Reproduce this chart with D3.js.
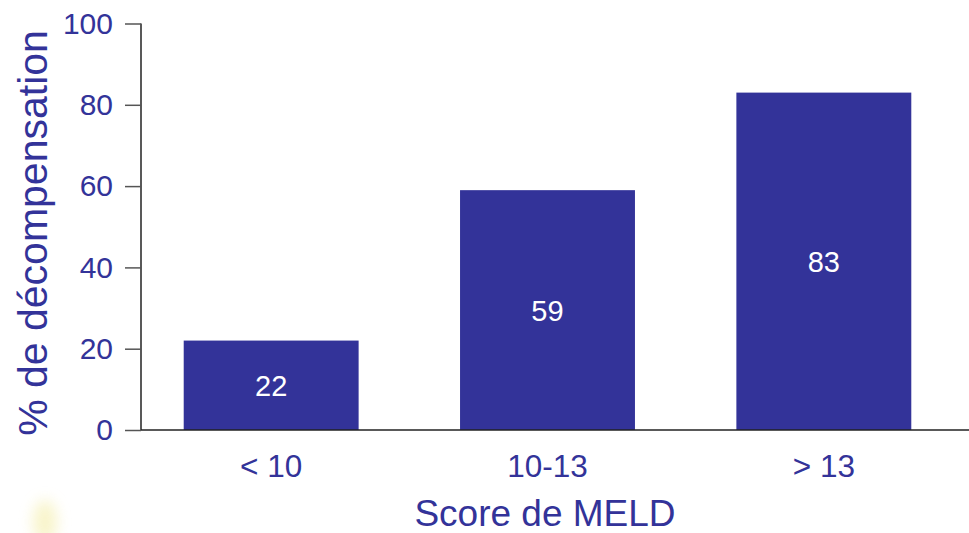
<!DOCTYPE html>
<html>
<head>
<meta charset="utf-8">
<script src="https://cdn.jsdelivr.net/npm/d3@7"></script>
<style>
  html, body { margin: 0; padding: 0; background: #ffffff; }
  svg { display: block; }
  text { font-family: "Liberation Sans", Arial, sans-serif; }
</style>
</head>
<body>
<svg id="chart" width="969" height="533"></svg>
<script>
// MELD score groups and the share of patients who decompensated (%)
const categories = ["< 10", "10-13", "> 13"];
const values = [22, 59, 83];
const yTicks = [0, 20, 40, 60, 80, 100];
const xTitle = "Score de MELD";
const yTitle = "% de décompensation";

const W = 969, H = 533;
const ink = "#333399";
const svg = d3.select("#chart");

// soft yellow glow in the lower-left corner
const defs = svg.append("defs");
defs.append("filter").attr("id", "glow")
  .attr("x", "-100%").attr("y", "-100%").attr("width", "300%").attr("height", "300%")
  .append("feGaussianBlur").attr("stdDeviation", 7);
svg.append("ellipse")
  .attr("cx", 45).attr("cy", 522).attr("rx", 12).attr("ry", 22)
  .attr("fill", "#f3eca0").attr("opacity", 0.55)
  .attr("filter", "url(#glow)");

const axisX = 141;
const y = d3.scaleLinear().domain([0, 100]).range([430, 23.5]);
const x = d3.scaleBand().domain(categories).range([133, 962])
  .paddingInner(0.367).paddingOuter(0.1835);

// bars
svg.append("g").selectAll("rect")
  .data(values)
  .join("rect")
  .attr("x", (d, i) => x(categories[i]))
  .attr("width", x.bandwidth())
  .attr("y", d => y(d))
  .attr("height", d => y(0) - y(d))
  .attr("fill", ink);

// values inside bars
svg.append("g").selectAll("text")
  .data(values)
  .join("text")
  .attr("x", (d, i) => x(categories[i]) + x.bandwidth() / 2)
  .attr("y", d => (y(d) + y(0)) / 2)
  .attr("dy", "0.36em")
  .attr("text-anchor", "middle")
  .attr("fill", "#ffffff")
  .attr("font-size", 29)
  .text(d => d);

// y axis
const yAxis = svg.append("g")
  .attr("transform", `translate(${axisX},0)`)
  .call(d3.axisLeft(y).tickValues(yTicks).tickSize(16).tickPadding(12));
yAxis.select(".domain").attr("stroke", "#222").attr("stroke-width", 1.5)
  .attr("d", `M0,${y(100)}V${y(0)}`);
yAxis.selectAll(".tick line").attr("stroke", "#555").attr("stroke-width", 1.5);
yAxis.selectAll(".tick text")
  .attr("fill", ink).attr("font-size", 30)
  .attr("font-family", "Liberation Sans, Arial, sans-serif");

// x axis baseline
svg.append("line")
  .attr("x1", axisX).attr("x2", W)
  .attr("y1", y(0)).attr("y2", y(0))
  .attr("stroke", "#222").attr("stroke-width", 1.5);

// category labels
svg.append("g").selectAll("text")
  .data(categories)
  .join("text")
  .attr("x", d => x(d) + x.bandwidth() / 2)
  .attr("y", 477)
  .attr("text-anchor", "middle")
  .attr("fill", ink)
  .attr("font-size", 31.5)
  .text(d => d);

// axis titles
svg.append("text")
  .attr("x", 545).attr("y", 526)
  .attr("text-anchor", "middle")
  .attr("fill", ink).attr("font-size", 37)
  .text(xTitle);

svg.append("text")
  .attr("transform", `translate(47,${(30 + 436) / 2}) rotate(-90)`)
  .attr("text-anchor", "middle")
  .attr("fill", ink).attr("font-size", 41)
  .text(yTitle);
</script>
</body>
</html>
